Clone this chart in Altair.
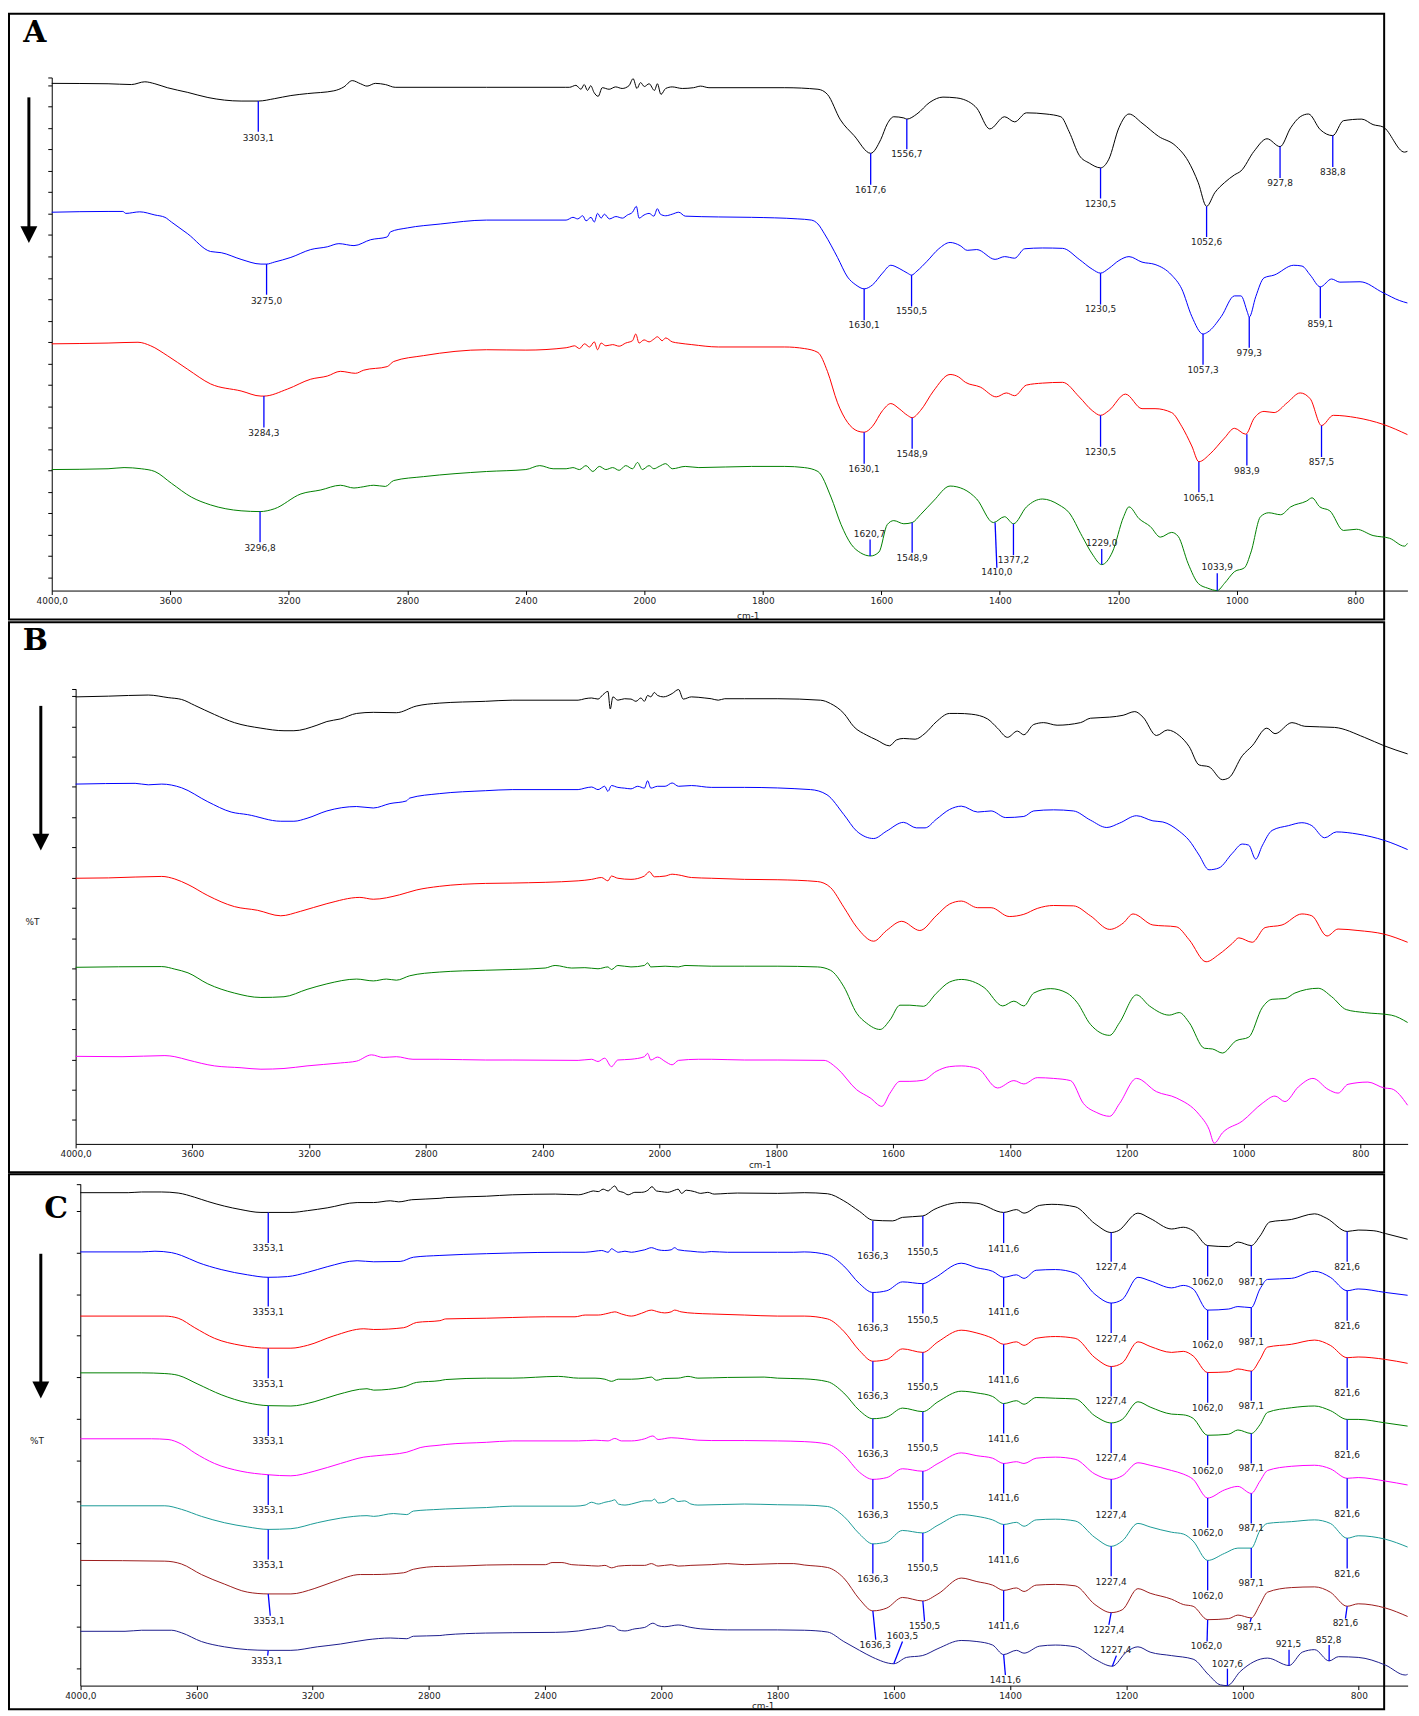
import altair as alt
import pandas as pd

FONT = "DejaVu Sans"

# ---------------- x axis (wavenumber, cm-1) ----------------
X_TICKS = [4000, 3600, 3200, 2800, 2400, 2000, 1800, 1600, 1400, 1200, 1000, 800]

# ---------------- Panel A spectra (wavenumber, %T offset units) ----------------
A_BLACK = [(4000,129.1),(3810,129.0),(3731,128.8),(3686,129.5),(3652,129.0),(3610,128.0),(3541,126.8),(3473,125.5),(3361,124.6),(3303,124.6),(3249,125.2),(3193,126.0),(3137,126.5),(3048,127.2),(3014,128.2),(2986,129.8),(2958,129.0),(2936,128.4),(2908,129.1),(2874,128.8),(2841,128.1),(2533,128.1),(2267,128.1),(2253,128.1),(2231,128.6),(2214,127.6),(2203,128.8),(2192,127.3),(2181,128.5),(2170,126.8),(2156,125.8),(2142,128.0),(2119,127.6),(2097,128.2),(2075,127.8),(2052,128.5),(2038,130.3),(2025,127.8),(2013,129.3),(2000,128.3),(1992,129.0),(1983,127.3),(1978,129.0),(1972,126.3),(1964,127.8),(1953,128.2),(1936,127.8),(1917,128.0),(1905,128.4),(1891,128.0),(1763,128.0),(1707,127.6),(1691,126.3),(1669,119.8),(1646,115.8),(1618,111.3),(1601,114.8),(1590,118.8),(1579,120.6),(1562,120.3),(1557,120.0),(1540,121.3),(1518,124.3),(1496,125.6),(1473,125.4),(1461,125.0),(1439,122.8),(1417,117.5),(1392,120.6),(1375,119.3),(1355,121.6),(1322,121.3),(1297,120.6),(1283,116.8),(1266,110.8),(1249,108.8),(1230,107.6),(1216,109.8),(1199,117.8),(1182,121.3),(1160,119.0),(1132,115.6),(1104,113.3),(1082,109.3),(1065,103.8),(1051,97.8),(1037,101.3),(1021,103.8),(1004,105.8),(993,106.8),(971,111.8),(949,115.0),(927,113.0),(909,117.8),(893,120.6),(879,121.3),(859,117.3),(838,115.8),(820,119.6),(789,120.0),(770,118.6),(753,118.0),(717,111.6),(712,111.8)]
A_BLUE = [(4000,96.3),(3810,96.5),(3760,96.5),(3750,96.0),(3703,96.4),(3652,95.6),(3618,95.0),(3596,93.8),(3541,90.8),(3464,86.3),(3428,86.0),(3361,84.3),(3294,83.1),(3275,83.1),(3249,83.6),(3193,84.8),(3126,86.8),(3070,87.5),(3031,88.3),(2980,87.8),(2924,89.3),(2868,90.0),(2857,91.3),(2800,92.3),(2689,93.3),(2533,94.3),(2264,94.3),(2241,95.0),(2225,94.6),(2208,95.4),(2197,94.1),(2180,95.0),(2169,93.8),(2158,96.0),(2146,94.8),(2135,95.8),(2118,94.6),(2096,95.2),(2074,94.8),(2057,95.6),(2040,96.3),(2027,97.8),(2018,94.8),(2001,95.6),(1992,96.0),(1984,95.3),(1978,97.2),(1973,95.8),(1964,95.4),(1953,95.8),(1942,96.3),(1931,95.3),(1875,95.1),(1819,95.0),(1741,94.6),(1718,94.3),(1707,93.3),(1696,90.8),(1674,84.8),(1657,79.8),(1643,77.8),(1629,76.8),(1615,77.8),(1598,80.8),(1584,82.8),(1570,82.0),(1556,80.8),(1549,80.3),(1540,81.3),(1523,83.8),(1503,87.0),(1484,88.6),(1467,87.8),(1455,86.6),(1439,86.8),(1408,84.3),(1392,85.0),(1375,84.6),(1358,87.0),(1328,87.2),(1294,87.1),(1266,84.3),(1244,81.8),(1230,80.8),(1216,82.0),(1199,84.0),(1182,85.0),(1160,83.6),(1138,83.0),(1110,80.3),(1093,76.8),(1076,69.8),(1057,65.3),(1049,65.8),(1026,69.8),(1004,75.0),(993,75.0),(982,70.8),(979,69.6),(968,74.8),(954,79.6),(937,80.3),(904,82.8),(890,82.6),(876,80.3),(859,77.3),(840,79.3),(826,78.5),(792,78.6),(753,75.8),(725,73.8),(712,73.2)]
A_RED = [(4000,62.8),(3810,63.0),(3709,63.2),(3666,62.3),(3610,59.8),(3541,56.3),(3464,52.6),(3361,50.8),(3294,49.5),(3284,49.5),(3204,51.3),(3126,53.8),(3070,54.6),(3026,55.8),(2975,55.3),(2947,56.1),(2868,57.0),(2846,58.3),(2745,59.8),(2533,61.3),(2400,61.2),(2264,61.8),(2252,62.0),(2236,62.3),(2219,61.6),(2202,62.8),(2185,62.0),(2169,63.3),(2158,61.3),(2146,63.0),(2130,62.3),(2107,62.6),(2085,62.2),(2063,63.0),(2040,63.6),(2029,65.3),(2018,63.0),(2001,63.8),(1992,63.3),(1984,64.0),(1978,64.6),(1970,63.6),(1964,64.3),(1953,63.3),(1942,63.0),(1920,62.6),(1875,62.0),(1763,62.0),(1730,61.6),(1707,60.6),(1691,55.8),(1674,47.8),(1657,42.8),(1640,40.6),(1629,40.3),(1615,41.8),(1598,45.8),(1584,47.6),(1570,46.3),(1556,44.6),(1548,44.0),(1534,45.8),(1512,50.8),(1484,55.0),(1470,54.4),(1458,53.0),(1433,51.8),(1406,49.3),(1389,50.3),(1375,49.6),(1355,52.3),(1328,52.8),(1294,53.0),(1266,49.3),(1244,45.8),(1230,44.6),(1216,45.8),(1188,50.0),(1160,46.3),(1138,46.3),(1110,45.3),(1093,41.8),(1076,36.8),(1064,32.8),(1045,34.8),(1021,38.8),(1004,41.3),(985,39.8),(971,43.8),(954,45.6),(937,45.3),(915,47.8),(893,50.3),(876,48.8),(857,42.0),(837,44.6),(798,44.0),(753,42.3),(712,39.7)]
A_GREEN = [(4000,30.8),(3810,31.0),(3756,31.3),(3698,31.0),(3652,30.3),(3596,27.3),(3529,23.8),(3464,21.8),(3361,20.3),(3297,20.1),(3249,20.8),(3159,24.6),(3092,25.6),(3026,26.8),(2980,26.1),(2958,26.3),(2913,26.8),(2874,26.5),(2846,28.0),(2745,29.0),(2533,30.3),(2400,30.8),(2353,31.8),(2308,31.0),(2264,31.0),(2241,31.3),(2219,30.8),(2197,31.8),(2174,30.3),(2152,31.6),(2130,30.8),(2107,31.3),(2085,30.6),(2063,31.8),(2040,31.0),(2023,32.6),(2007,30.8),(1992,31.8),(1984,31.0),(1975,31.6),(1964,32.3),(1953,31.0),(1931,31.6),(1908,31.3),(1819,31.6),(1763,31.6),(1730,31.3),(1707,30.3),(1685,23.8),(1668,16.8),(1651,11.8),(1635,9.6),(1618,8.8),(1604,9.8),(1590,16.8),(1579,17.8),(1562,17.0),(1548,17.3),(1534,19.3),(1512,22.8),(1484,26.6),(1461,25.8),(1439,23.3),(1411,17.3),(1392,18.8),(1377,17.0),(1355,21.3),(1328,23.3),(1300,21.8),(1283,19.8),(1261,13.8),(1244,9.3),(1228,6.6),(1210,9.8),(1191,18.8),(1182,21.3),(1165,18.3),(1146,16.3),(1129,13.6),(1110,14.8),(1099,13.8),(1082,6.8),(1065,1.8),(1049,0.6),(1033,0.0),(1021,1.8),(1004,4.8),(987,5.8),(976,9.8),(960,18.8),(946,19.8),(926,19.3),(909,21.3),(882,22.8),(873,23.6),(860,21.3),(843,20.3),(820,15.3),(798,15.6),(770,14.0),(742,13.3),(717,11.3),(712,12.0)]

# peak annotations: (label, wn at curve, T at curve, wn at line end, T at line end, wn of text, T of text)
A_PEAKS = [
    ("3303,1", 3303, 124.6, 3303, 116.8, 3303, 115.3),
    ("1617,6", 1618, 111.3, 1618, 103.3, 1618, 101.9),
    ("1556,7", 1557, 120.0, 1557, 112.3, 1557, 111.0),
    ("1230,5", 1230, 107.6, 1230, 99.8, 1230, 98.3),
    ("1052,6", 1051, 97.8, 1051, 90.0, 1051, 88.6),
    ("927,8", 927, 113.0, 927, 105.0, 927, 103.7),
    ("838,8", 838, 115.8, 838, 107.8, 838, 106.5),
    ("3275,0", 3275, 83.1, 3275, 75.3, 3275, 73.8),
    ("1630,1", 1629, 76.8, 1629, 68.8, 1629, 67.5),
    ("1550,5", 1549, 80.3, 1549, 72.3, 1549, 71.1),
    ("1230,5", 1230, 80.8, 1230, 72.8, 1230, 71.6),
    ("1057,3", 1057, 65.3, 1057, 57.5, 1057, 56.1),
    ("979,3", 979, 69.6, 979, 61.8, 979, 60.5),
    ("859,1", 859, 77.3, 859, 69.3, 859, 67.9),
    ("3284,3", 3284, 49.5, 3284, 41.5, 3284, 40.0),
    ("1630,1", 1629, 40.3, 1629, 32.3, 1629, 31.0),
    ("1548,9", 1548, 44.0, 1548, 36.1, 1548, 34.8),
    ("1230,5", 1230, 44.6, 1230, 36.6, 1230, 35.3),
    ("1065,1", 1064, 32.8, 1064, 25.0, 1064, 23.6),
    ("983,9", 983, 39.8, 983, 31.8, 983, 30.5),
    ("857,5", 857, 42.0, 857, 34.0, 857, 32.6),
    ("3296,8", 3297, 20.1, 3297, 12.3, 3297, 10.8),
    ("1620,7", 1619, 8.8, 1619, 13.0, 1620, 14.3),
    ("1548,9", 1548, 17.3, 1548, 9.6, 1548, 8.2),
    ("1410,0", 1408, 17.3, 1405, 5.8, 1405, 4.6),
    ("1377,2", 1377, 17.0, 1377, 9.0, 1377, 7.8),
    ("1229,0", 1228, 6.6, 1228, 10.6, 1228, 12.1),
    ("1033,9", 1033, 0.0, 1033, 4.4, 1033, 6.0),
]

# ---------------- Panel B spectra ----------------
B_BLACK = [(4000,121.5),(3887,121.7),(3751,122.0),(3683,121.3),(3637,120.8),(3592,119.2),(3524,116.7),(3456,114.5),(3365,113.0),(3286,112.3),(3252,112.3),(3173,113.8),(3139,114.8),(3093,115.5),(3037,117.0),(2980,117.3),(2901,117.2),(2833,119.0),(2754,119.8),(2595,120.3),(2504,120.6),(2278,120.6),(2255,121.0),(2232,121.2),(2210,120.9),(2193,122.1),(2176,123.0),(2168,118.2),(2159,121.5),(2142,120.6),(2119,121.0),(2097,120.9),(2080,120.3),(2063,121.2),(2051,120.3),(2040,121.9),(2029,121.5),(2017,122.7),(2006,121.9),(1993,121.5),(1978,122.4),(1967,123.5),(1959,120.9),(1945,121.5),(1922,121.2),(1911,121.0),(1899,120.6),(1888,121.0),(1854,121.0),(1797,121.0),(1724,120.6),(1707,119.7),(1684,117.0),(1667,113.4),(1645,111.1),(1628,109.8),(1606,108.2),(1594,109.8),(1582,110.2),(1562,110.0),(1545,111.6),(1526,114.7),(1503,117.0),(1489,117.0),(1466,116.8),(1438,115.5),(1421,113.0),(1404,110.5),(1387,112.2),(1376,111.2),(1359,114.0),(1342,114.5),(1319,113.8),(1279,114.5),(1262,115.7),(1229,116.0),(1206,116.5),(1186,117.5),(1172,116.0),(1149,111.0),(1130,112.5),(1110,111.0),(1093,108.0),(1076,103.0),(1059,102.5),(1036,99.0),(1025,99.5),(1002,105.5),(985,108.2),(960,113.0),(946,111.5),(917,114.5),(895,113.5),(844,113.2),(793,110.5),(759,108.2),(719,106.0)]
B_BLUE = [(4000,97.8),(3796,98.0),(3751,97.6),(3705,97.8),(3637,96.8),(3547,93.0),(3467,90.2),(3411,89.5),(3297,87.7),(3252,87.7),(3207,88.5),(3139,90.5),(3037,91.7),(2980,91.3),(2923,92.5),(2867,93.2),(2855,94.0),(2754,95.2),(2595,96.0),(2504,96.3),(2278,96.3),(2255,96.7),(2232,97.0),(2210,96.3),(2187,97.2),(2176,95.8),(2164,97.4),(2142,96.9),(2119,96.7),(2097,96.5),(2074,97.2),(2051,96.7),(2040,98.7),(2029,96.7),(2006,97.2),(1990,97.2),(1978,98.1),(1967,97.2),(1945,97.4),(1911,96.9),(1854,96.9),(1741,96.3),(1713,94.9),(1684,89.5),(1662,85.0),(1633,83.0),(1611,85.0),(1582,87.4),(1560,85.9),(1545,85.9),(1526,88.2),(1503,90.9),(1483,91.8),(1455,90.2),(1432,90.5),(1407,88.7),(1376,89.0),(1359,90.5),(1325,90.8),(1291,90.5),(1262,88.0),(1234,86.0),(1212,87.2),(1183,89.2),(1155,87.8),(1138,87.5),(1110,85.0),(1093,82.5),(1076,78.5),(1059,74.5),(1042,75.0),(1019,79.0),(1002,81.5),(991,81.2),(979,77.4),(968,81.0),(951,85.2),(923,86.5),(900,87.3),(883,86.5),(861,83.2),(841,84.8),(804,84.2),(759,82.5),(719,80.0)]
B_RED = [(4000,72.2),(3887,72.3),(3705,72.7),(3660,72.0),(3615,70.5),(3547,67.5),(3456,64.5),(3377,63.5),(3297,62.0),(3230,63.2),(3139,65.3),(3026,67.0),(2980,66.5),(2890,67.7),(2833,69.0),(2754,70.0),(2595,70.8),(2504,70.9),(2278,71.5),(2232,71.9),(2198,72.4),(2176,71.5),(2164,72.8),(2142,72.2),(2097,71.9),(2051,72.8),(2034,74.0),(2017,72.6),(1990,72.8),(1978,73.3),(1967,73.1),(1945,72.4),(1911,72.2),(1854,71.9),(1797,71.8),(1729,71.3),(1707,69.7),(1684,64.3),(1662,58.9),(1633,55.1),(1611,58.0),(1585,60.5),(1554,58.0),(1526,62.0),(1503,65.2),(1483,66.0),(1455,64.2),(1432,64.2),(1401,61.8),(1376,62.4),(1353,64.0),(1325,64.8),(1291,64.7),(1262,62.0),(1229,58.3),(1206,60.0),(1189,62.5),(1155,59.5),(1115,59.0),(1093,55.5),(1064,49.5),(1042,51.5),(1019,54.5),(1008,56.0),(985,54.8),(963,58.8),(934,59.5),(900,62.5),(883,62.0),(857,56.5),(838,58.4),(804,58.0),(759,57.0),(719,54.8)]
B_GREEN = [(4000,48.0),(3705,48.2),(3660,47.5),(3615,46.5),(3547,43.5),(3456,41.0),(3365,39.8),(3286,40.0),(3207,42.0),(3139,43.5),(3037,44.8),(2980,44.3),(2935,44.8),(2901,44.5),(2855,45.7),(2754,46.7),(2595,47.2),(2504,47.4),(2391,47.8),(2357,48.5),(2300,47.8),(2255,47.9),(2210,47.6),(2176,48.1),(2164,47.4),(2142,48.5),(2097,48.1),(2051,48.5),(2040,49.2),(2029,48.1),(1990,48.3),(1967,48.1),(1956,48.5),(1911,48.3),(1854,48.3),(1797,48.3),(1729,48.1),(1707,47.2),(1684,42.7),(1662,35.5),(1645,32.8),(1622,31.1),(1605,33.7),(1588,37.7),(1571,37.7),(1548,37.4),(1526,40.9),(1503,44.0),(1483,44.7),(1444,42.5),(1412,37.5),(1393,38.8),(1376,37.5),(1359,41.0),(1330,42.2),(1302,41.0),(1285,38.5),(1262,32.5),(1229,29.5),(1212,33.0),(1183,40.5),(1161,37.5),(1127,35.0),(1110,35.7),(1093,33.0),(1067,26.0),(1053,25.8),(1036,24.7),(1013,28.0),(991,29.0),(968,37.0),(951,39.3),(929,39.5),(912,41.0),(872,42.3),(849,40.0),(824,36.5),(793,35.7),(747,35.0),(719,33.0)]
B_MAGENTA = [(4000,23.8),(3841,23.7),(3694,24.0),(3660,23.7),(3615,22.8),(3524,21.2),(3433,20.7),(3365,20.3),(3286,20.5),(3207,21.2),(3093,22.0),(3037,22.5),(2986,24.2),(2946,23.5),(2901,23.7),(2844,23.0),(2754,23.0),(2595,22.8),(2504,22.8),(2278,22.7),(2232,23.0),(2210,22.4),(2187,23.3),(2164,21.0),(2142,22.8),(2097,23.0),(2051,23.7),(2040,24.6),(2029,22.8),(2006,23.6),(1990,22.4),(1978,21.5),(1967,22.7),(1933,23.0),(1911,23.0),(1854,22.8),(1797,22.8),(1718,22.7),(1696,20.6),(1662,14.7),(1639,12.5),(1619,10.2),(1605,13.8),(1588,17.0),(1571,17.0),(1548,17.3),(1526,19.7),(1503,21.0),(1483,21.2),(1455,20.5),(1421,15.2),(1393,17.2),(1376,16.3),(1353,18.0),(1325,17.8),(1296,17.2),(1274,11.0),(1251,8.5),(1229,7.5),(1212,11.0),(1183,17.8),(1149,14.2),(1115,12.5),(1076,8.0),(1059,4.0),(1050,0.2),(1036,3.0),(1002,6.2),(968,11.0),(946,13.0),(929,11.5),(906,15.5),(881,17.8),(855,14.8),(838,13.8),(821,16.2),(787,16.8),(759,15.2),(747,15.0),(719,10.5)]

# ---------------- Panel C spectra ----------------
C_BLACK = [(4000,139.8),(3835,139.8),(3789,140.0),(3720,140.0),(3663,139.7),(3606,138.5),(3561,137.3),(3504,136.0),(3447,135.0),(3378,134.2),(3353,134.2),(3275,134.2),(3218,134.7),(3150,135.5),(3047,137.0),(2990,137.0),(2933,137.5),(2904,137.2),(2859,137.8),(2762,138.2),(2742,138.4),(2602,138.8),(2513,139.2),(2365,139.4),(2285,139.2),(2251,139.9),(2234,140.3),(2217,140.1),(2200,140.8),(2183,140.3),(2171,141.1),(2160,141.7),(2148,140.3),(2131,139.9),(2114,139.2),(2091,139.9),(2068,139.9),(2046,140.5),(2032,141.5),(2017,140.3),(2000,140.1),(1989,139.9),(1977,140.5),(1971,140.8),(1965,139.6),(1957,140.5),(1943,140.1),(1932,139.6),(1920,139.9),(1909,139.4),(1886,139.6),(1869,139.7),(1800,139.6),(1754,139.8),(1714,139.5),(1686,137.5),(1659,134.5),(1636,132.0),(1602,131.8),(1585,132.8),(1550,133.2),(1531,135.0),(1484,137.0),(1457,136.8),(1411,134.2),(1389,135.0),(1376,134.0),(1349,136.2),(1328,136.5),(1288,135.8),(1254,131.0),(1226,128.5),(1214,129.0),(1180,134.0),(1159,132.5),(1122,129.5),(1102,130.0),(1085,129.0),(1060,124.8),(1024,124.5),(1008,125.8),(985,124.8),(970,127.5),(953,131.5),(916,132.2),(876,133.8),(855,132.5),(820,128.8),(801,129.2),(774,129.0),(754,128.2),(716,126.6)]
C_BLUE = [(4000,123.0),(3789,123.0),(3743,123.2),(3686,122.8),(3652,122.0),(3595,120.0),(3515,118.0),(3424,116.5),(3353,115.8),(3287,116.0),(3218,117.2),(3150,118.8),(3047,120.5),(2990,120.2),(2899,120.3),(2853,121.5),(2762,122.0),(2602,122.5),(2513,122.7),(2342,122.9),(2262,122.9),(2228,123.2),(2205,123.4),(2183,122.9),(2171,123.9),(2160,123.4),(2148,122.9),(2125,123.2),(2103,122.9),(2080,123.2),(2057,123.6),(2034,124.2),(2011,123.6),(1994,123.4),(1983,123.6),(1977,124.2),(1971,123.6),(1949,123.2),(1926,122.9),(1914,123.1),(1886,122.9),(1800,122.9),(1772,122.9),(1754,123.0),(1714,122.2),(1686,119.0),(1659,114.0),(1636,111.5),(1612,112.0),(1585,114.5),(1550,114.0),(1531,115.5),(1484,119.8),(1457,118.5),(1430,117.5),(1411,115.8),(1389,116.5),(1376,115.5),(1355,117.8),(1322,118.0),(1288,117.0),(1254,111.0),(1226,108.5),(1207,109.5),(1180,115.8),(1159,114.8),(1122,112.8),(1102,113.5),(1085,112.5),(1060,106.5),(1024,106.8),(1008,107.5),(985,107.2),(970,112.5),(957,115.2),(916,115.5),(876,117.5),(849,115.8),(820,112.0),(801,112.5),(754,111.5),(716,110.7)]
C_RED = [(4000,104.8),(3709,104.8),(3663,104.2),(3606,101.5),(3538,98.5),(3447,96.5),(3353,95.7),(3275,95.7),(3218,96.5),(3127,99.2),(3024,101.2),(2990,101.0),(2887,101.5),(2842,103.0),(2762,103.5),(2742,104.0),(2602,104.2),(2513,104.4),(2399,104.6),(2297,104.6),(2262,105.1),(2217,105.1),(2183,105.6),(2160,106.0),(2137,105.4),(2103,104.8),(2068,105.6),(2034,106.5),(2011,106.0),(1994,105.7),(1983,106.0),(1977,106.5),(1966,106.0),(1943,105.6),(1914,105.4),(1857,105.1),(1800,104.8),(1754,104.8),(1714,104.0),(1686,100.5),(1659,95.0),(1636,92.0),(1612,92.5),(1585,95.5),(1550,94.5),(1524,97.5),(1484,100.8),(1457,100.0),(1430,98.5),(1411,96.8),(1389,97.5),(1376,96.5),(1355,98.5),(1322,99.0),(1288,98.5),(1254,93.0),(1226,90.5),(1207,91.5),(1180,97.5),(1159,96.2),(1122,94.5),(1102,94.8),(1085,93.5),(1060,88.8),(1024,89.0),(1008,89.8),(985,89.2),(970,92.5),(957,96.0),(916,96.8),(876,98.0),(849,96.5),(820,93.0),(801,93.2),(754,92.5),(716,91.4)]
C_GREEN = [(4000,88.7),(3789,88.7),(3709,88.5),(3663,88.0),(3595,85.5),(3515,82.5),(3424,80.2),(3353,79.4),(3275,79.3),(3195,80.5),(3116,82.5),(3013,84.2),(2990,83.8),(2887,84.7),(2842,86.0),(2762,86.5),(2742,86.8),(2602,87.2),(2513,87.2),(2354,87.7),(2285,87.2),(2228,87.2),(2194,86.9),(2171,86.3),(2148,86.9),(2103,86.9),(2057,87.2),(2034,87.5),(2017,86.6),(1994,87.1),(1971,87.2),(1954,87.7),(1937,87.2),(1886,87.4),(1823,87.5),(1800,87.2),(1754,87.0),(1714,86.2),(1686,83.0),(1659,78.0),(1636,75.7),(1612,76.2),(1585,78.7),(1550,77.7),(1524,80.5),(1484,83.5),(1457,83.0),(1430,82.0),(1411,80.0),(1389,80.8),(1376,79.8),(1355,81.7),(1322,81.5),(1288,81.3),(1254,76.5),(1226,74.5),(1207,75.5),(1180,80.5),(1159,79.0),(1122,77.0),(1102,76.8),(1085,75.8),(1060,71.0),(1024,71.3),(1008,72.5),(985,71.5),(970,74.0),(957,77.5),(916,78.8),(876,79.3),(849,78.0),(820,75.5),(801,75.5),(754,74.5),(716,73.6)]
C_MAGENTA = [(4000,70.0),(3755,70.0),(3698,69.8),(3652,68.5),(3606,66.0),(3538,63.0),(3447,60.8),(3353,59.8),(3275,59.5),(3195,60.8),(3104,63.0),(3024,64.8),(2979,65.2),(2876,66.2),(2830,67.5),(2762,68.2),(2742,68.4),(2602,69.0),(2513,69.4),(2285,69.4),(2228,69.6),(2183,69.4),(2160,70.1),(2137,69.4),(2103,69.4),(2057,70.0),(2029,70.8),(2011,69.8),(1983,70.3),(1960,70.0),(1937,69.6),(1914,69.5),(1857,69.5),(1800,69.4),(1754,69.2),(1714,68.5),(1686,65.5),(1659,60.5),(1636,58.5),(1612,59.0),(1585,61.5),(1550,60.8),(1524,63.0),(1484,66.0),(1457,65.2),(1430,64.5),(1411,63.0),(1389,63.5),(1376,63.0),(1355,64.5),(1322,64.8),(1288,64.2),(1254,60.0),(1226,58.5),(1207,59.5),(1180,63.2),(1159,62.5),(1122,61.0),(1102,60.0),(1085,58.5),(1060,53.2),(1031,55.5),(1008,56.5),(985,54.5),(970,58.0),(957,61.0),(916,62.2),(876,62.5),(849,61.5),(820,58.8),(801,59.0),(754,58.0),(716,56.9)]
C_TEAL = [(4000,51.0),(3709,51.0),(3652,50.0),(3583,48.0),(3504,46.2),(3424,45.0),(3353,44.3),(3275,44.5),(3184,46.2),(3104,47.5),(3013,48.2),(2990,48.0),(2922,48.8),(2876,48.5),(2853,49.5),(2762,50.0),(2742,50.1),(2602,50.5),(2513,50.9),(2297,50.9),(2262,51.2),(2240,52.0),(2217,51.5),(2194,52.0),(2171,52.4),(2160,52.7),(2148,51.5),(2125,51.2),(2103,51.5),(2080,52.0),(2057,52.4),(2034,52.4),(2023,52.9),(2011,51.8),(1994,52.0),(1980,53.1),(1971,52.2),(1960,52.4),(1949,51.5),(1937,51.2),(1857,51.5),(1800,51.3),(1754,51.2),(1714,50.8),(1686,48.0),(1659,43.0),(1636,40.2),(1612,40.8),(1585,44.0),(1550,43.3),(1524,45.5),(1484,48.5),(1457,48.0),(1430,47.0),(1411,45.7),(1389,46.3),(1376,45.2),(1355,47.0),(1322,47.2),(1288,46.7),(1254,42.0),(1226,39.5),(1207,41.0),(1180,46.0),(1159,45.0),(1122,43.5),(1102,43.0),(1085,41.0),(1060,35.5),(1031,37.5),(1008,39.0),(985,39.0),(970,44.0),(957,46.0),(916,46.5),(876,47.0),(849,46.0),(820,41.8),(801,42.5),(754,41.5),(716,39.3)]
C_BROWN = [(4000,35.5),(3709,35.3),(3652,34.5),(3583,31.5),(3504,28.8),(3424,26.5),(3353,26.0),(3275,26.0),(3195,27.5),(3127,29.5),(3036,31.5),(2990,31.5),(2887,32.0),(2853,33.0),(2762,33.8),(2742,33.8),(2602,34.2),(2513,34.3),(2399,34.3),(2376,34.9),(2342,34.9),(2308,34.3),(2262,34.1),(2217,33.9),(2194,34.1),(2171,33.4),(2148,33.9),(2103,34.1),(2057,34.1),(2034,34.6),(2011,33.9),(1983,34.3),(1971,33.9),(1949,34.1),(1914,34.3),(1886,34.6),(1857,34.3),(1800,34.6),(1772,34.6),(1754,34.2),(1714,33.5),(1686,30.5),(1659,24.5),(1636,21.2),(1612,22.0),(1585,25.0),(1550,24.0),(1524,26.0),(1484,30.5),(1457,29.5),(1430,28.5),(1411,27.0),(1389,27.7),(1376,26.7),(1355,28.5),(1322,28.7),(1288,28.3),(1254,23.0),(1226,20.7),(1207,21.5),(1180,27.5),(1159,26.2),(1122,24.5),(1102,23.0),(1085,22.5),(1060,18.7),(1024,19.0),(1008,20.0),(985,19.2),(970,23.0),(957,26.5),(916,27.8),(876,28.0),(849,26.5),(820,22.5),(801,23.2),(754,22.0),(716,19.6)]
C_NAVY = [(4000,15.4),(3846,15.4),(3789,15.7),(3686,15.7),(3652,15.0),(3583,12.5),(3504,11.0),(3424,10.2),(3353,10.0),(3275,10.0),(3184,11.0),(3104,11.8),(3013,13.0),(2933,13.5),(2876,13.3),(2853,14.0),(2762,14.2),(2742,14.4),(2605,14.9),(2513,15.0),(2365,15.1),(2285,15.5),(2262,15.8),(2240,16.1),(2205,16.5),(2183,17.0),(2160,16.7),(2148,15.8),(2125,15.5),(2091,16.1),(2057,16.5),(2029,17.7),(2011,17.0),(1994,16.7),(1971,17.2),(1949,16.5),(1932,16.1),(1886,15.8),(1800,15.8),(1754,15.7),(1714,15.2),(1686,12.5),(1659,10.0),(1636,8.0),(1600,6.2),(1578,8.0),(1551,8.5),(1524,10.5),(1484,12.8),(1457,12.5),(1430,11.5),(1411,8.8),(1389,10.0),(1376,9.2),(1349,11.2),(1322,11.5),(1288,11.0),(1254,7.5),(1224,5.5),(1200,9.5),(1180,11.0),(1159,9.5),(1122,8.5),(1085,7.5),(1058,3.0),(1038,0.2),(1026,0.0),(1004,4.0),(957,7.8),(920,5.7),(897,9.5),(876,10.2),(851,7.0),(835,8.2),(801,8.0),(754,5.8),(720,3.0),(716,3.2)]

# C peak labels shared by the first seven spectra
C_PEAK_LABELS = ["3353,1", "1636,3", "1550,5", "1411,6", "1227,4", "1062,0", "987,1", "821,6"]
C_PEAK_WN = [3353, 1636, 1550, 1411, 1226, 1060, 985, 820]
# per spectrum: (T at curve, T at line end, T of text)
C1_PK = [(134.2,125.5,124.0),(131.8,123.2,121.8),(133.2,124.5,123.0),(134.2,125.5,123.8),(128.5,120.2,118.7),(124.8,116.0,114.5),(124.8,116.0,114.5),(128.8,120.2,118.8)]
C2_PK = [(115.8,107.5,106.0),(111.5,103.0,101.3),(114.0,105.5,103.8),(115.8,107.3,105.9),(108.5,100.0,98.4),(106.5,98.0,96.5),(107.2,98.8,97.5),(112.0,103.5,102.1)]
C3_PK = [(95.7,87.2,85.6),(92.0,83.5,82.0),(94.5,86.0,84.6),(96.8,88.2,86.8),(90.5,82.0,80.7),(88.8,80.2,78.7),(89.2,80.8,79.3),(93.0,84.5,82.9)]
C4_PK = [(79.4,70.8,69.3),(75.7,67.2,65.7),(77.7,69.0,67.5),(80.0,71.5,70.0),(74.5,66.0,64.5),(71.0,62.5,61.0),(71.5,63.0,61.7),(75.5,66.8,65.3)]
C5_PK = [(59.8,51.2,49.7),(58.5,50.0,48.5),(60.8,52.5,51.0),(63.0,54.5,53.1),(58.5,50.0,48.5),(53.2,44.8,43.3),(54.5,46.0,44.6),(58.8,50.2,48.7)]
C6_PK = [(44.3,35.8,34.3),(40.2,31.8,30.2),(43.3,35.0,33.4),(45.7,37.2,35.7),(39.5,31.0,29.5),(35.5,27.0,25.5),(39.0,30.5,29.2),(41.8,33.2,31.7)]
C7_PEAKS = [
    ("3353,1", 3353, 26.0, 3346, 19.8, 3350, 18.3),
    ("1636,3", 1636, 21.2, 1631, 13.0, 1632, 11.5),
    ("1550,5", 1550, 24.0, 1547, 18.2, 1547, 16.8),
    ("1411,6", 1411, 27.0, 1411, 18.2, 1411, 16.8),
    ("1227,4", 1226, 20.7, 1230, 17.2, 1230, 15.7),
    ("1062,0", 1060, 18.7, 1061, 12.5, 1062, 11.2),
    ("987,1", 985, 19.2, 987, 18.0, 988, 16.6),
    ("821,6", 820, 22.5, 823, 19.0, 823, 17.7),
]
C8_PEAKS = [
    ("3353,1", 3353, 10.0, 3355, 8.5, 3358, 7.0),
    ("1603,5", 1600, 6.2, 1585, 12.5, 1585, 14.2),
    ("1411,6", 1411, 8.8, 1408, 3.0, 1408, 1.5),
    ("1227,4", 1224, 5.5, 1217, 8.5, 1218, 10.2),
    ("1027,6", 1026, 0.0, 1026, 4.8, 1026, 6.2),
    ("921,5", 920, 5.7, 920, 10.2, 921, 11.8),
    ("852,8", 851, 7.0, 851, 11.5, 852, 13.0),
]

COLS = ["label", "wn", "T", "wn2", "T2", "wn_t", "T_t"]


def c_peaks():
    rows = []
    for pk in [C1_PK, C2_PK, C3_PK, C4_PK, C5_PK, C6_PK]:
        for lab, wn, (t, t2, tt) in zip(C_PEAK_LABELS, C_PEAK_WN, pk):
            rows.append((lab, wn, t, wn, t2, wn, tt))
    return rows + C7_PEAKS + C8_PEAKS


def spectra_frame(series):
    rows = []
    for name, color, pts in series:
        for i, (wn, t) in enumerate(pts):
            rows.append({"series": name, "color": color, "idx": i, "wn": wn, "T": t})
    return pd.DataFrame(rows)


def one_row():
    return pd.DataFrame({"k": [0]})


def panel(series, peaks, xdom, xrng, ydom, yrng, yticks, height, x_off, y_off,
          cm_x, cm_y, letter, letter_x, letter_y, arrow_x, arrow_y1, arrow_y2,
          ytitle="", ytitle_x=0, ytitle_y=0):
    xs = alt.Scale(domain=xdom, range=xrng, nice=False, zero=False)
    ys = alt.Scale(domain=ydom, range=yrng, nice=False, zero=False)
    xaxis = alt.Axis(values=X_TICKS, offset=x_off, tickSize=4, labelPadding=2,
                     labelFlush=False, labelOverlap=False, grid=False,
                     labelExpr="datum.value == 4000 ? '4000,0' : format(datum.value, 'd')",
                     titleX=cm_x, titleY=cm_y, titleBaseline="middle", titleAlign="center")
    yaxis = alt.Axis(values=yticks, offset=y_off, labels=False, tickSize=4, grid=False,
                     titleAngle=0, titleX=ytitle_x, titleY=ytitle_y,
                     titleAlign="center", titleBaseline="middle")

    def X(field):
        return alt.X(field, type="quantitative", scale=xs, axis=xaxis, title="cm-1")

    def Y(field):
        return alt.Y(field, type="quantitative", scale=ys, axis=yaxis, title=ytitle)

    lines = alt.Chart(spectra_frame(series)).mark_line(strokeWidth=1, interpolate="monotone").encode(
        x=X("wn"), y=Y("T"),
        color=alt.Color("color:N", scale=None),
        detail="series:N",
        order="idx:Q",
    )
    layers = [lines]
    if peaks:
        pdf = pd.DataFrame(peaks, columns=COLS)
        rules = alt.Chart(pdf).mark_rule(color="#0000ff", strokeWidth=1.3).encode(
            x=X("wn"), y=Y("T"), x2="wn2:Q", y2="T2:Q",
        )
        texts = alt.Chart(pdf).mark_text(font=FONT, fontSize=9, color="#222222",
                                         align="center", baseline="middle").encode(
            x=X("wn_t"), y=Y("T_t"), text="label:N",
        )
        layers += [rules, texts]

    shaft = alt.Chart(one_row()).mark_rule(color="black", strokeWidth=3).encode(
        x=alt.value(arrow_x), y=alt.value(arrow_y1), y2=alt.value(arrow_y2 - 10))
    head = alt.Chart(one_row()).mark_point(shape="M -1 -1 L 1 -1 L 0 1 Z", filled=True,
                                           size=289, color="black", opacity=1).encode(
        x=alt.value(arrow_x), y=alt.value(arrow_y2 - 8))
    lett = alt.Chart(one_row()).mark_text(text=letter, font="DejaVu Serif", fontSize=30,
                                          fontWeight="bold", color="black",
                                          align="center", baseline="middle").encode(
        x=alt.value(letter_x), y=alt.value(letter_y))
    layers += [shaft, head, lett]
    return alt.layer(*layers).properties(width=1383, height=height)


panel_a = panel(
    [("a1", "#000000", A_BLACK), ("a2", "#0000ff", A_BLUE), ("a3", "#ff0000", A_RED), ("a4", "#008000", A_GREEN)],
    A_PEAKS,
    [4000, 2000, 712], [43, 639, 1406.4],
    [0, 130.6], [580, 64],
    [round(3.3 + 5.45 * k, 2) for k in range(24)] + [130.6],
    609, -29, -43, 743, 25, "A", 26, 19, 20, 84, 230)

panel_b = panel(
    [("b1", "#000000", B_BLACK), ("b2", "#0000ff", B_BLUE), ("b3", "#ff0000", B_RED),
     ("b4", "#008000", B_GREEN), ("b5", "#ff00ff", B_MAGENTA)],
    [],
    [4000, 2000, 719], [67, 654, 1406.6],
    [0, 123.7], [524.5, 66.8],
    [round(6.5 + 8.23 * k, 2) for k in range(15)] + [123.7],
    553, -28.5, -67, 755, 21, "B", 26.5, 18.5, 32, 84, 229,
    ytitle="%T", ytitle_x=-44, ytitle_y=300.6)

panel_c = panel(
    [("c1", "#000000", C_BLACK), ("c2", "#0000ff", C_BLUE), ("c3", "#ff0000", C_RED),
     ("c4", "#008000", C_GREEN), ("c5", "#ff00ff", C_MAGENTA), ("c6", "#1a9a96", C_TEAL),
     ("c7", "#9b1b1b", C_BROWN), ("c8", "#1c1c8c", C_NAVY)],
    c_peaks(),
    [4000, 2000, 716], [71.7, 656, 1406.6],
    [0, 142.3], [514.3, 9.7],
    [round(5.0 + 11.78 * k, 2) for k in range(12)] + [142.3],
    538, -23.7, -71.7, 758, 20, "C", 47.5, 35.5, 32, 80, 225,
    ytitle="%T", ytitle_x=-44, ytitle_y=267.8)

chart = alt.vconcat(panel_a, panel_b, panel_c, spacing=0, padding=0).resolve_scale(
    x="independent", y="independent"
).configure_view(
    stroke="black", strokeWidth=2
).configure_axis(
    domainColor="black", tickColor="black", domainWidth=1, tickWidth=1,
    labelFont=FONT, labelFontSize=9, labelColor="#222222",
    titleFont=FONT, titleFontSize=9, titleFontWeight="normal", titleColor="#222222"
)

chart.save("out.html", embed_options={"renderer": "svg", "actions": False})
